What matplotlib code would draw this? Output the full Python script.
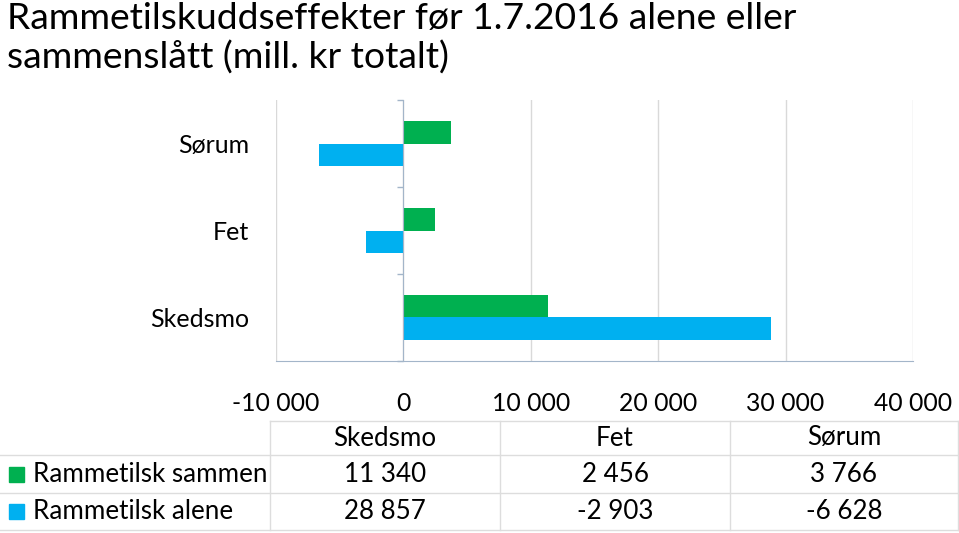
import numpy as np
import matplotlib
matplotlib.use('Agg')
import matplotlib.pyplot as plt
from matplotlib.patches import Rectangle
from matplotlib.lines import Line2D

# data
kommuner = ['Skedsmo', 'Fet', 'Sørum']
sammen = [11340, 2456, 3766]
alene = [28857, -2903, -6628]
serier = ['Rammetilsk sammen', 'Rammetilsk alene']
farger = ['#00B050', '#00B0F0']
xticks = [-10000, 0, 10000, 20000, 30000, 40000]

plt.rcParams['font.family'] = ['Lato', 'DejaVu Sans']

W, H = 959, 533
fig = plt.figure(figsize=(W / 100, H / 100), dpi=100)

def fx(x):
    return x / W

def fy(y):
    return 1 - y / H

def fmt(v):
    return '{:,}'.format(v).replace(',', ' ')

# title
fig.text(fx(7), fy(2), 'Rammetilskuddseffekter før 1.7.2016 alene eller\nsammenslått (mill. kr totalt)',
         fontsize=26.8, va='top', ha='left', linespacing=1.18)

# chart
ax = fig.add_axes([fx(276), fy(361), fx(913) - fx(276), fy(100) - fy(361)])
y = np.arange(len(kommuner))
h = 0.253
ax.barh(y + h / 2, sammen, height=h, color=farger[0], zorder=3)
ax.barh(y - h / 2, alene, height=h, color=farger[1], zorder=3)

ax.set_xlim(-10000, 40000)
ax.set_ylim(-0.5, len(kommuner) - 0.5)
ax.set_xticks(xticks)
ax.set_xticklabels([fmt(v) for v in xticks])
ax.grid(axis='x', color='#D9D9D9', lw=1, zorder=0)
ax.tick_params(axis='x', length=0, pad=22, labelsize=17.8)

ax.spines['top'].set_visible(False)
ax.spines['right'].set_visible(False)
ax.spines['left'].set_position(('data', 0))
axcol = '#A3B5C9'
ax.spines['left'].set_color(axcol)
ax.spines['bottom'].set_color(axcol)
ax.spines['left'].set_zorder(4)

ax.set_yticks(y)
ax.set_yticklabels(kommuner)
ax.set_yticks(np.arange(-0.5, len(kommuner), 1), minor=True)
ax.tick_params(axis='y', which='major', length=0, pad=111, labelsize=18)
ax.tick_params(axis='y', which='minor', length=4.5, color=axcol, width=1)

# data table
grid = '#DDDDDD'
col_x = [270, 500, 730, 958]
row_y = [421, 455, 493, 530]
lines = [((col_x[0], col_x[-1]), (row_y[0], row_y[0]))]
for ry in row_y[1:]:
    lines.append(((0, col_x[-1]), (ry, ry)))
for cx in col_x:
    lines.append(((cx, cx), (row_y[0], row_y[-1])))
for xs, ys in lines:
    fig.add_artist(Line2D([fx(xs[0]), fx(xs[1])], [fy(ys[0]), fy(ys[1])],
                          color=grid, lw=1, transform=fig.transFigure))

tsize = 18.7
for i, k in enumerate(kommuner):
    cx = (col_x[i] + col_x[i + 1]) / 2
    fig.text(fx(cx), fy((row_y[0] + row_y[1]) / 2), k, ha='center', va='center', fontsize=tsize)
    for r, vals in enumerate([sammen, alene]):
        cy = (row_y[r + 1] + row_y[r + 2]) / 2
        fig.text(fx(cx), fy(cy), fmt(vals[i]), ha='center', va='center', fontsize=tsize)

for r, navn in enumerate(serier):
    cy = (row_y[r + 1] + row_y[r + 2]) / 2
    fig.add_artist(Rectangle((fx(9), fy(cy + 7.5)), fx(15), 15 / H, color=farger[r],
                             transform=fig.transFigure))
    fig.text(fx(33), fy(cy), navn, ha='left', va='center', fontsize=tsize)

fig.savefig('out.png', dpi=100)
